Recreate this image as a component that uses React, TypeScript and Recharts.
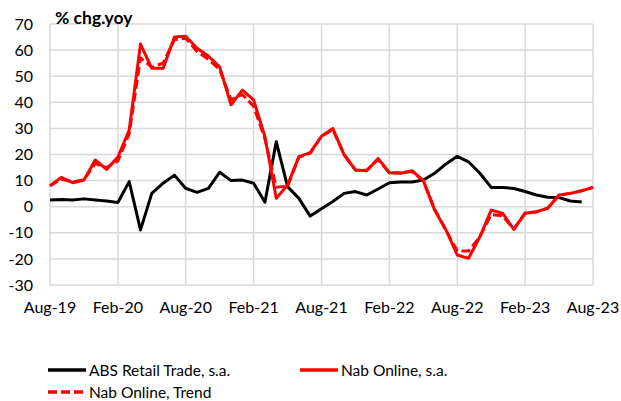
import React from "react";
import { LineChart, Line, XAxis, YAxis, CartesianGrid } from "recharts";

const months = [
  "Aug-19","Sep-19","Oct-19","Nov-19","Dec-19","Jan-20","Feb-20","Mar-20","Apr-20","May-20","Jun-20","Jul-20",
  "Aug-20","Sep-20","Oct-20","Nov-20","Dec-20","Jan-21","Feb-21","Mar-21","Apr-21","May-21","Jun-21","Jul-21",
  "Aug-21","Sep-21","Oct-21","Nov-21","Dec-21","Jan-22","Feb-22","Mar-22","Apr-22","May-22","Jun-22","Jul-22",
  "Aug-22","Sep-22","Oct-22","Nov-22","Dec-22","Jan-23","Feb-23","Mar-23","Apr-23","May-23","Jun-23","Jul-23",
  "Aug-23",
];

const absRetail = [
  2.6, 2.8, 2.6, 3.0, 2.6, 2.2, 1.6, 9.6, -8.9, 5.1, 9.0, 12.1,
  7.0, 5.5, 7.0, 13.2, 10.0, 10.2, 9.0, 1.7, 24.9, 7.7, 3.2, -3.6,
  -0.8, 2.0, 5.1, 5.8, 4.5, 6.8, 9.2, 9.5, 9.5, 10.2, 12.8, 16.4,
  19.3, 17.2, 12.8, 7.4, 7.4, 7.0, 5.8, 4.5, 3.6, 3.5, 2.2, 1.8,
  null,
];

const nabOnline = [
  8.0, 11.2, 9.2, 10.2, 17.9, 14.3, 19.0, 29.4, 62.3, 53.0, 53.0, 65.0,
  65.3, 60.7, 57.7, 53.6, 39.0, 44.7, 40.9, 26.8, 3.2, 8.3, 19.2, 20.7,
  27.0, 30.0, 19.8, 14.1, 13.8, 18.5, 13.0, 12.8, 13.8, 10.0, -1.3, -8.9,
  -18.5, -19.8, -11.5, -1.3, -2.5, -8.7, -2.5, -1.9, -0.6, 4.5, 5.1, 6.1,
  7.4,
];

const nabTrend = [
  8.0, 10.5, 9.5, 10.3, 16.5, 15.0, 17.5, 28.0, 57.0, 53.5, 55.0, 64.0,
  64.5, 59.5, 56.5, 52.5, 41.0, 43.0, 38.5, 26.0, 7.5, 7.8, 19.0, 20.5,
  27.0, 29.5, 20.0, 14.0, 14.0, 18.0, 13.0, 13.0, 13.5, 10.0, -1.0, -9.0,
  -17.0, -17.0, -11.5, -3.0, -3.5, -8.5, -2.5, -2.0, -0.6, 4.5, 5.1, 6.1,
  7.4,
];

const xTickLabels = ["Aug-19","Feb-20","Aug-20","Feb-21","Aug-21","Feb-22","Aug-22","Feb-23","Aug-23"];
const yTicks = [-30, -20, -10, 0, 10, 20, 30, 40, 50, 60, 70];

const data = months.map((m, i) => ({
  i,
  month: m,
  abs: absRetail[i],
  nab: nabOnline[i],
  trend: nabTrend[i],
}));

const xTicks = xTickLabels.map((l) => months.indexOf(l));

const FONT = "Lato, 'DejaVu Sans', sans-serif";

const legendItems = [
  { label: "ABS Retail Trade, s.a.", color: "#000000", dash: undefined as string | undefined, x: 48, y: 370 },
  { label: "Nab Online, s.a.", color: "#ff0000", dash: undefined as string | undefined, x: 300, y: 370 },
  { label: "Nab Online, Trend", color: "#ff0000", dash: "9 4", x: 48, y: 392 },
];

export default function App() {
  return (
    <div style={{ position: "absolute", left: 0, top: 0, width: 621, height: 401, background: "#fff", fontFamily: FONT }}>
      <LineChart
        width={621}
        height={401}
        data={data}
        margin={{ top: 24, right: 28, left: 0, bottom: 86 }}
      >
        <CartesianGrid stroke="#d9d9d9" strokeWidth={1.5} vertical={true} horizontal={true} />
        <XAxis
          dataKey="i"
          type="number"
          domain={[0, 48]}
          ticks={xTicks}
          interval={0}
          tickFormatter={(v: number) => months[v]}
          axisLine={false}
          tickLine={false}
          tickMargin={11}
          height={30}
          tick={{ fill: "#000", fontSize: 16, fontFamily: FONT }}
        />
        <YAxis
          type="number"
          domain={[-30, 70]}
          ticks={yTicks}
          interval={0}
          axisLine={false}
          tickLine={false}
          tickMargin={11}
          width={50}
          tick={{ fill: "#000", fontSize: 16, fontFamily: FONT }}
        />
        <Line dataKey="abs" stroke="#000000" strokeWidth={3} dot={false} isAnimationActive={false} strokeLinejoin="round" />
        <Line dataKey="nab" stroke="#ff0000" strokeWidth={3} dot={false} isAnimationActive={false} strokeLinejoin="round" />
        <Line dataKey="trend" stroke="#ff0000" strokeWidth={3} strokeDasharray="9 4" dot={false} isAnimationActive={false} strokeLinejoin="round" />
      </LineChart>
      <div style={{ position: "absolute", left: 55, top: 7, fontSize: 17.5, fontWeight: "bold", color: "#000", lineHeight: "22px" }}>
        % chg.yoy
      </div>
      {legendItems.map((it) => (
        <div key={it.label} style={{ position: "absolute", left: it.x, top: it.y - 10, height: 20, display: "flex", alignItems: "center" }}>
          <svg width={40} height={20}>
            <line x1={0} y1={10} x2={38} y2={10} stroke={it.color} strokeWidth={3.5} strokeDasharray={it.dash} />
          </svg>
          <span style={{ fontSize: 15.5, color: "#000", marginLeft: 1, lineHeight: "20px" }}>{it.label}</span>
        </div>
      ))}
    </div>
  );
}
